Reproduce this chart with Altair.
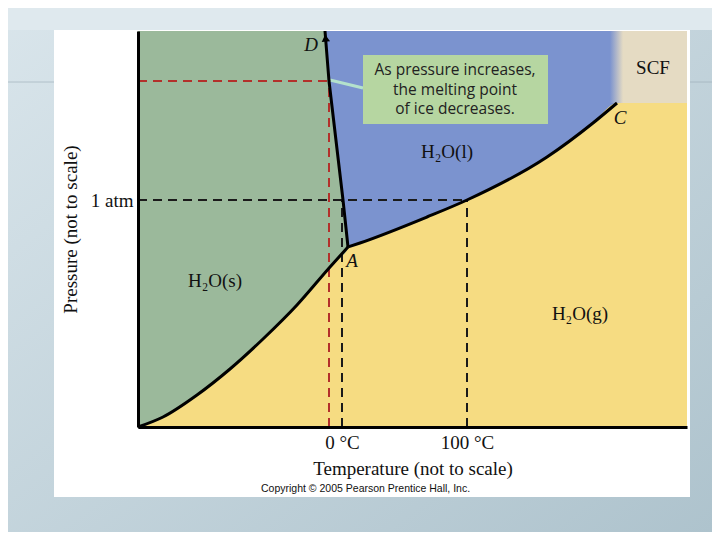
import altair as alt
import pandas as pd

# ---- data (arbitrary "not to scale" units) ----
# plot extent
plot_T = [0, 549]
plot_P = [0, 396]

# solid/gas boundary (sublimation curve), from origin to triple point A
sub_T = [0, 25, 59, 92, 125, 159, 192, 210]
sub_P = [0, 10, 32, 58, 88, 122, 160, 180]
# solid/liquid boundary (melting curve), from A up to D
melt_T = [210, 205, 191, 187]
melt_P = [180, 227, 346, 396]
# liquid/gas boundary (vaporization curve), from A to critical point C
vap_T = [210, 222, 289, 329, 409, 455, 479]
vap_P = [180, 184, 210, 227, 270, 304, 324]
# gas region continues right of C at the critical pressure
gas_edge_T = [549]
gas_edge_P = [324]
# supercritical fluid region
scf_T = [472, 549]
scf_P = [324, 396]

# dashed guide lines: (T, P, T2, P2)
black_guides = [(0, 227, 329, 227), (204, 0, 204, 227), (329, 0, 329, 227)]
red_guides = [(0, 346, 191, 346), (191, 0, 191, 346)]

# tick labels
x_tick_vals = [204, 329]
x_tick_labels = ["0 °C", "100 °C"]
y_tick_vals = [227]
y_tick_labels = ["1 atm"]

# region / point labels
italic_labels = ["D", "C", "A"]
italic_T = [173, 482, 214]
italic_P = [382, 309, 166]
phase_labels = ["H₂O(l)", "H₂O(s)", "H₂O(g)", "SCF"]
phase_T = [309, 77, 442, 515]
phase_P = [275, 146, 113, 359]

# annotation box
note_box_T = [225, 410]
note_box_P = [303, 372]
note_lines = ["As pressure increases,", "the melting point", "of ice decreases."]
note_T = [317, 317, 317]
note_P = [357, 337, 318]
note_link_T = [192, 225]
note_link_P = [347, 339]

# arrow at D
arrow_T = [187.5]
arrow_P = [389]

# ---- colours ----
GREEN = "#9bb99b"
BLUE = "#7b93cf"
YELLOW = "#f6dc82"
TAN = "#e5dbc3"
BOXGREEN = "#b6d6a1"
MINT = "#b4e2cc"
RED = "#b3302b"


def lbl_expr(vals, labels):
    expr = "''"
    for v, l in zip(vals, labels):
        expr = f"datum.value == {v} ? '{l}' : " + expr
    return expr


SERIF = "Liberation Serif"
axis_style = dict(
    zindex=1, domainColor="black", domainWidth=3, ticks=False, grid=False,
    labelFont=SERIF, labelFontSize=19, labelColor="#111111",
    titleFont=SERIF, titleFontSize=19, titleFontWeight="normal", titleColor="#111111",
)
xs = alt.Scale(domain=plot_T, nice=False, zero=False)
ys = alt.Scale(domain=plot_P, nice=False, zero=False)
axX = alt.Axis(title="Temperature (not to scale)", values=x_tick_vals,
               labelExpr=lbl_expr(x_tick_vals, x_tick_labels),
               labelPadding=6, titlePadding=7, **axis_style)
axY = alt.Axis(title="Pressure (not to scale)", values=y_tick_vals,
               labelExpr=lbl_expr(y_tick_vals, y_tick_labels),
               labelPadding=5, titlePadding=10, **axis_style)


def X(f, **kw):
    return alt.X(f, scale=xs, axis=axX, title="Temperature (not to scale)", **kw)


def Y(f, **kw):
    return alt.Y(f, scale=ys, axis=axY, title="Pressure (not to scale)", **kw)


one = pd.DataFrame({"a": [0]})

# slide background (decoration)
slide = alt.Chart(one).mark_rect(
    color=alt.Gradient(
        gradient="linear",
        stops=[alt.GradientStop(color="#d9e5eb", offset=0),
               alt.GradientStop(color="#aec3cd", offset=1)],
        x1=0, y1=0, x2=1, y2=1,
    )
).encode(x=alt.value(-130), x2=alt.value(574), y=alt.value(-23), y2=alt.value(501))
topbar = alt.Chart(one).mark_rect(color="#dfe9ee").encode(
    x=alt.value(-130), x2=alt.value(574), y=alt.value(-23), y2=alt.value(-1)
)
slide_rule = alt.Chart(one).mark_rule(color="#9aabb4", strokeWidth=1, opacity=0.6).encode(
    x=alt.value(-130), x2=alt.value(574), y=alt.value(51)
)
white_box = alt.Chart(one).mark_rect(color="white").encode(
    x=alt.value(-84), x2=alt.value(552), y=alt.value(-1), y2=alt.value(466)
)

# yellow base
base_df = pd.DataFrame({"T": [plot_T[0]], "T2": [plot_T[1]], "P": [plot_P[0]], "P2": [plot_P[1]]})
base = alt.Chart(base_df).mark_rect(color=YELLOW).encode(
    x=X("T:Q"), x2="T2:Q", y=Y("P:Q"), y2="P2:Q"
)

# solid region (horizontal area from left edge to sublimation+melting boundary)
green_df = pd.DataFrame({"T": sub_T + melt_T[1:], "P": sub_P + melt_P[1:]})
green_df["T0"] = plot_T[0]
green = alt.Chart(green_df).mark_area(orient="horizontal", color=GREEN, interpolate="monotone").encode(
    y=Y("P:Q"), x=X("T:Q"), x2="T0:Q"
)

# liquid region (horizontal area from melting curve to right edge)
blue_df = pd.DataFrame({"T": melt_T, "P": melt_P})
blue_df["T1"] = plot_T[1]
blue = alt.Chart(blue_df).mark_area(orient="horizontal", color=BLUE).encode(
    y=Y("P:Q"), x=X("T:Q"), x2="T1:Q"
)

# gas region under vaporization curve
gas_df = pd.DataFrame({"T": vap_T + gas_edge_T, "P": vap_P + gas_edge_P})
gas_df["P0"] = plot_P[0]
gas = alt.Chart(gas_df).mark_area(orient="vertical", color=YELLOW, interpolate="monotone").encode(
    x=X("T:Q"), y=Y("P:Q"), y2="P0:Q"
)

# SCF region
scf_df = pd.DataFrame({"T": [scf_T[0]], "T2": [scf_T[1]], "P": [scf_P[0]], "P2": [scf_P[1]]})
scf = alt.Chart(scf_df).mark_rect(
    color=alt.Gradient(
        gradient="linear",
        stops=[alt.GradientStop(color=BLUE, offset=0),
               alt.GradientStop(color=TAN, offset=0.17),
               alt.GradientStop(color=TAN, offset=1)],
        x1=0, y1=0, x2=1, y2=0,
    )
).encode(x=X("T:Q"), x2="T2:Q", y=Y("P:Q"), y2="P2:Q")

# dashed guides
bg_df = pd.DataFrame(black_guides, columns=["T", "P", "T2", "P2"])
rg_df = pd.DataFrame(red_guides, columns=["T", "P", "T2", "P2"])
black_dash = alt.Chart(bg_df).mark_rule(color="#1a1a1a", strokeWidth=2, strokeDash=[9, 6]).encode(
    x=X("T:Q"), x2="T2:Q", y=Y("P:Q"), y2="P2:Q"
)
red_dash = alt.Chart(rg_df).mark_rule(color=RED, strokeWidth=2, strokeDash=[9, 6]).encode(
    x=X("T:Q"), x2="T2:Q", y=Y("P:Q"), y2="P2:Q"
)

# annotation connector and box
link_df = pd.DataFrame({"T": note_link_T, "P": note_link_P})
link = alt.Chart(link_df).mark_line(color=MINT, strokeWidth=3).encode(x=X("T:Q"), y=Y("P:Q"))
box_df = pd.DataFrame({"T": [note_box_T[0]], "T2": [note_box_T[1]], "P": [note_box_P[0]], "P2": [note_box_P[1]]})
box = alt.Chart(box_df).mark_rect(color=BOXGREEN).encode(x=X("T:Q"), x2="T2:Q", y=Y("P:Q"), y2="P2:Q")
note_df = pd.DataFrame({"t": note_lines, "T": note_T, "P": note_P})
note = alt.Chart(note_df).mark_text(
    font="Open Sans", fontSize=15.5, color="#222222", align="center", baseline="middle"
).encode(x=X("T:Q"), y=Y("P:Q"), text="t:N")

# phase boundary curves
sub_line = alt.Chart(pd.DataFrame({"T": sub_T, "P": sub_P})).mark_line(
    color="black", strokeWidth=3, interpolate="monotone").encode(x=X("T:Q"), y=Y("P:Q"))
melt_line = alt.Chart(pd.DataFrame({"T": melt_T, "P": melt_P, "i": range(len(melt_T))})).mark_line(
    color="black", strokeWidth=3).encode(x=X("T:Q"), y=Y("P:Q"), order="i:Q")
vap_line = alt.Chart(pd.DataFrame({"T": vap_T, "P": vap_P})).mark_line(
    color="black", strokeWidth=3, interpolate="monotone").encode(x=X("T:Q"), y=Y("P:Q"))
arrow = alt.Chart(pd.DataFrame({"T": arrow_T, "P": arrow_P})).mark_point(
    shape="triangle-up", filled=True, color="black", size=70, angle=354, opacity=1
).encode(x=X("T:Q"), y=Y("P:Q"))

# labels
it_df = pd.DataFrame({"t": italic_labels, "T": italic_T, "P": italic_P})
it_text = alt.Chart(it_df).mark_text(
    font=SERIF, fontSize=19, fontStyle="italic", color="#111111",
    align="center", baseline="middle"
).encode(x=X("T:Q"), y=Y("P:Q"), text="t:N")
ph_df = pd.DataFrame({"t": phase_labels, "T": phase_T, "P": phase_P})
ph_text = alt.Chart(ph_df).mark_text(
    font=SERIF, fontSize=19, color="#111111", align="center", baseline="middle"
).encode(x=X("T:Q"), y=Y("P:Q"), text="t:N")

copyright_txt = alt.Chart(pd.DataFrame({"t": ["Copyright © 2005 Pearson Prentice Hall, Inc."]})).mark_text(
    font="Liberation Sans", fontSize=10.5, color="#111111", align="left", baseline="middle"
).encode(x=alt.value(123), y=alt.value(458), text="t:N")

chart = alt.layer(
    slide, topbar, slide_rule, white_box,
    base, green, blue, gas, scf,
    black_dash, red_dash, link, box, note,
    sub_line, melt_line, vap_line, arrow,
    it_text, ph_text, copyright_txt,
).properties(
    width=549, height=396,
    autosize=alt.AutoSizeParams(type="none"),
    padding={"left": 130, "top": 23, "right": 25, "bottom": 105},
    background="#c9d8df",
).configure_view(stroke=None)

chart.save("out.html", embed_options={"renderer": "svg", "actions": False})
